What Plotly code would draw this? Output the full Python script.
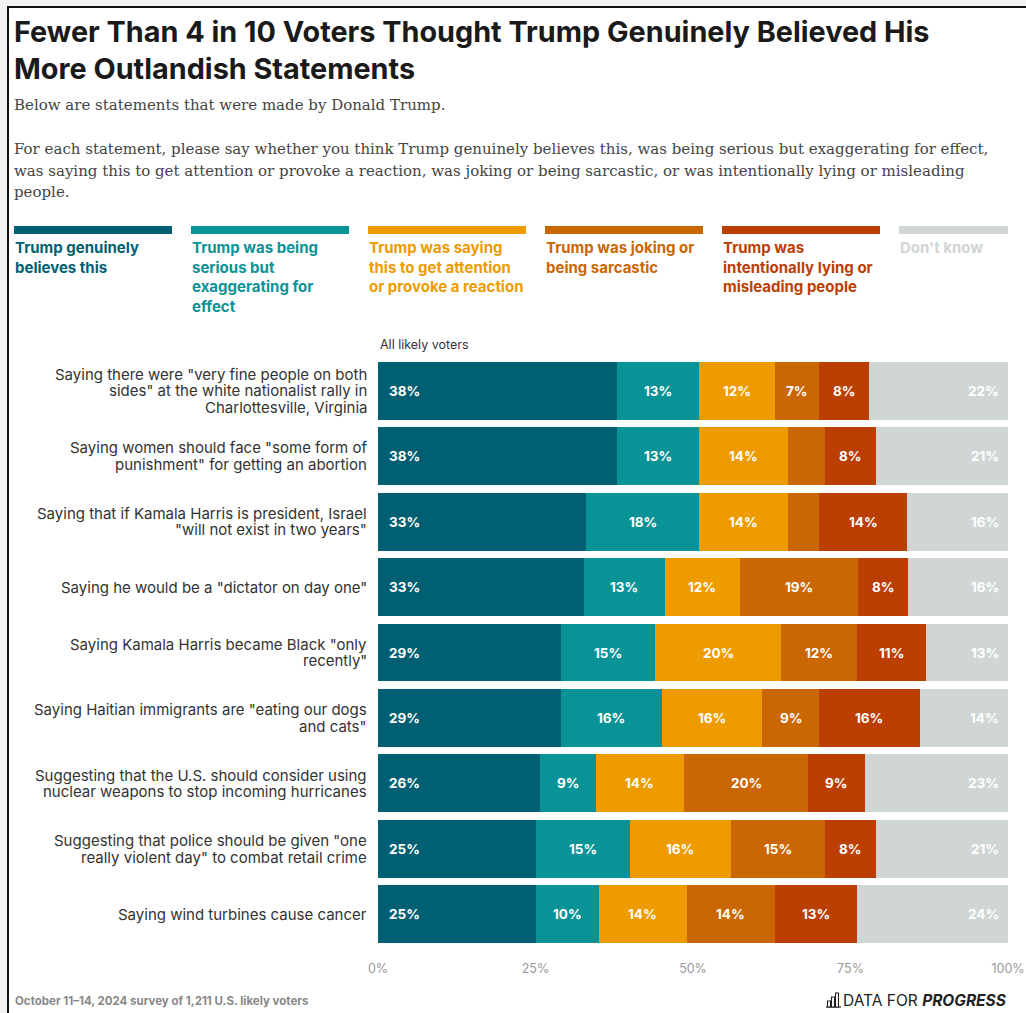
import plotly.graph_objects as go

# ---- data -------------------------------------------------------------
statements = [
    'Saying there were "very fine people on both<br>sides" at the white nationalist rally in<br>Charlottesville, Virginia',
    'Saying women should face "some form of<br>punishment" for getting an abortion',
    'Saying that if Kamala Harris is president, Israel<br>"will not exist in two years"',
    'Saying he would be a "dictator on day one"',
    'Saying Kamala Harris became Black "only<br>recently"',
    'Saying Haitian immigrants are "eating our dogs<br>and cats"',
    'Suggesting that the U.S. should consider using<br>nuclear weapons to stop incoming hurricanes',
    'Suggesting that police should be given "one<br>really violent day" to combat retail crime',
    'Saying wind turbines cause cancer',
]

genuinely_believes = [38, 38, 33, 33, 29, 29, 26, 25, 25]
serious_exaggerating = [13, 13, 18, 13, 15, 16, 9, 15, 10]
attention_reaction = [12, 14, 14, 12, 20, 16, 14, 16, 14]
joking_sarcastic = [7, 6, 5, 19, 12, 9, 20, 15, 14]
lying_misleading = [8, 8, 14, 8, 11, 16, 9, 8, 13]
dont_know = [22, 21, 16, 16, 13, 14, 23, 21, 24]

series = [genuinely_believes, serious_exaggerating, attention_reaction,
          joking_sarcastic, lying_misleading, dont_know]

series_labels = [
    "Trump genuinely<br>believes this",
    "Trump was being<br>serious but<br>exaggerating for<br>effect",
    "Trump was saying<br>this to get attention<br>or provoke a reaction",
    "Trump was joking or<br>being sarcastic",
    "Trump was<br>intentionally lying or<br>misleading people",
    "Don't know",
]

x_ticks = [0, 25, 50, 75, 100]
x_tick_text = ["0%", "25%", "50%", "75%", "100%"]

title_lines = [
    "Fewer Than 4 in 10 Voters Thought Trump Genuinely Believed His",
    "More Outlandish Statements",
]
subtitle_lines = [
    "Below are statements that were made by Donald Trump.",
    "For each statement, please say whether you think Trump genuinely believes this, was being serious but exaggerating for effect,",
    "was saying this to get attention or provoke a reaction, was joking or being sarcastic, or was intentionally lying or misleading",
    "people.",
]
group_label = "All likely voters"
source_note = "October 11\u201314, 2024 survey of 1,211 U.S. likely voters"

# ---- styling ----------------------------------------------------------
colors = ["#005f73", "#0a9396", "#ee9b00", "#ca6702", "#bb3e03", "#d0d5d5"]
SANS = "Inter, Lato, sans-serif"
SERIF = "'DejaVu Serif', serif"
MIN_LABEL = 7  # smaller segments are left unlabelled
CAT_LINE = 16.5  # line spacing of the row labels, px

W, H = 1026, 1013
L, R, T, B = 378, 18, 358, 66
PW, PH = W - L - R, H - T - B


def px(x):
    return (x - L) / PW


def py(y):
    return 1 - (y - T) / PH


# each row is scaled to fill the full bar width
totals = [sum(row) for row in zip(*series)]
shares = [[v / t * 100 for v, t in zip(s, totals)] for s in series]

fig = go.Figure()
for vals, name, col in zip(shares, series_labels, colors):
    fig.add_trace(go.Bar(
        y=statements, x=vals, orientation="h", name=name.replace("<br>", " "),
        marker=dict(color=col, line=dict(width=0)),
        showlegend=False, hoverinfo="skip",
    ))

annotations = []
shapes = []

# row labels, right-aligned against the bars with tight line spacing
for stmt in statements:
    lines = stmt.split("<br>")
    n = len(lines)
    for k, line in enumerate(lines):
        annotations.append(dict(
            x=0, y=stmt, xref="paper", yref="y", text=line,
            showarrow=False, xanchor="right", yanchor="middle", xshift=-9,
            yshift=((n - 1) / 2 - k) * CAT_LINE,
            font=dict(family=SANS, size=15, color="#333333"),
        ))

# value labels inside the segments
n_series = len(series)
for r in range(len(statements)):
    left = 0.0
    for i in range(n_series):
        w = shares[i][r]
        v = series[i][r]
        if v >= MIN_LABEL:
            if i == 0:
                ax, anchor, shift = left, "left", 9
            elif i == n_series - 1:
                ax, anchor, shift = 100, "right", -7
            else:
                ax, anchor, shift = left + w / 2, "center", 0
            annotations.append(dict(
                x=ax, y=statements[r], xref="x", yref="y", text=f"<b>{v}%</b>",
                showarrow=False, xanchor=anchor, xshift=shift,
                font=dict(family=SANS, size=13.5, color="white"),
            ))
        left += w

# framed card behind everything
shapes.append(dict(type="rect", xref="paper", yref="paper", layer="below",
                   x0=px(8), x1=px(1040), y0=py(7), y1=py(1030),
                   fillcolor="white", line=dict(color="#111111", width=2)))

# title and subtitle
for i, line in enumerate(title_lines):
    annotations.append(dict(
        x=px(12), y=py(32 + 37 * i), xref="paper", yref="paper", text=f"<b>{line}</b>",
        showarrow=False, xanchor="left", yanchor="middle",
        font=dict(family=SANS, size=28.8, color="#1a1a1a"),
    ))
for line, yy in zip(subtitle_lines, [105, 149, 171, 192]):
    annotations.append(dict(
        x=px(12), y=py(yy), xref="paper", yref="paper", text=line,
        showarrow=False, xanchor="left", yanchor="middle",
        font=dict(family=SERIF, size=15, color="#444444"),
    ))

# custom legend: coloured strip with wrapped label beneath
legend_x = [14, 191, 368, 545, 722, 899]
legend_w = [158, 158, 158, 158, 158, 109]
for x0, w, lab, col in zip(legend_x, legend_w, series_labels, colors):
    shapes.append(dict(type="rect", xref="paper", yref="paper",
                       x0=px(x0), x1=px(x0 + w), y0=py(226), y1=py(234),
                       fillcolor=col, line=dict(width=0)))
    annotations.append(dict(
        x=px(x0 - 1), y=py(236), xref="paper", yref="paper", text=f"<b>{lab}</b>",
        showarrow=False, xanchor="left", yanchor="top", align="left",
        font=dict(family=SANS, size=15, color=col),
    ))

annotations.append(dict(
    x=0, y=py(344), xref="paper", yref="paper", text=group_label,
    showarrow=False, xanchor="left", yanchor="middle",
    font=dict(family=SANS, size=12.5, color="#333333"),
))

# footer
annotations.append(dict(
    x=px(13), y=py(1001), xref="paper", yref="paper", text=f"<b>{source_note}</b>",
    showarrow=False, xanchor="left", yanchor="middle",
    font=dict(family=SANS, size=11.5, color="#888888"),
))
annotations.append(dict(
    x=px(1009), y=py(1000), xref="paper", yref="paper",
    text="DATA FOR <b><i>PROGRESS</i></b>",
    showarrow=False, xanchor="right", yanchor="middle",
    font=dict(family=SANS, size=15.5, color="#222222"),
))
# small bar-chart glyph of the wordmark
shapes.append(dict(type="line", xref="paper", yref="paper",
                   x0=px(826), x1=px(841), y0=py(1007), y1=py(1007),
                   line=dict(color="#222222", width=1.2)))
for bx, top in zip([827.5, 831.5, 835.5], [1001, 997, 993]):
    shapes.append(dict(type="rect", xref="paper", yref="paper",
                       x0=px(bx), x1=px(bx + 3), y0=py(1007), y1=py(top),
                       fillcolor="white", line=dict(color="#222222", width=1.1)))

fig.update_layout(
    width=W, height=H,
    margin=dict(l=L, r=R, t=T, b=B, pad=0),
    barmode="stack", bargap=0.115,
    paper_bgcolor="#f1f2f4", plot_bgcolor="white",
    annotations=annotations, shapes=shapes,
    xaxis=dict(range=[0, 100], tickvals=x_ticks, ticktext=x_tick_text,
               showgrid=False, zeroline=False, showline=False, ticks="",
               ticklabelstandoff=12, fixedrange=True, automargin=False,
               tickfont=dict(family=SANS, size=12.5, color="#999999")),
    yaxis=dict(categoryorder="array", categoryarray=statements, autorange="reversed",
               showgrid=False, zeroline=False, showline=False, ticks="",
               showticklabels=False, fixedrange=True, automargin=False),
    font=dict(family=SANS),
)

fig.write_html("out.html", config={"displayModeBar": False})
